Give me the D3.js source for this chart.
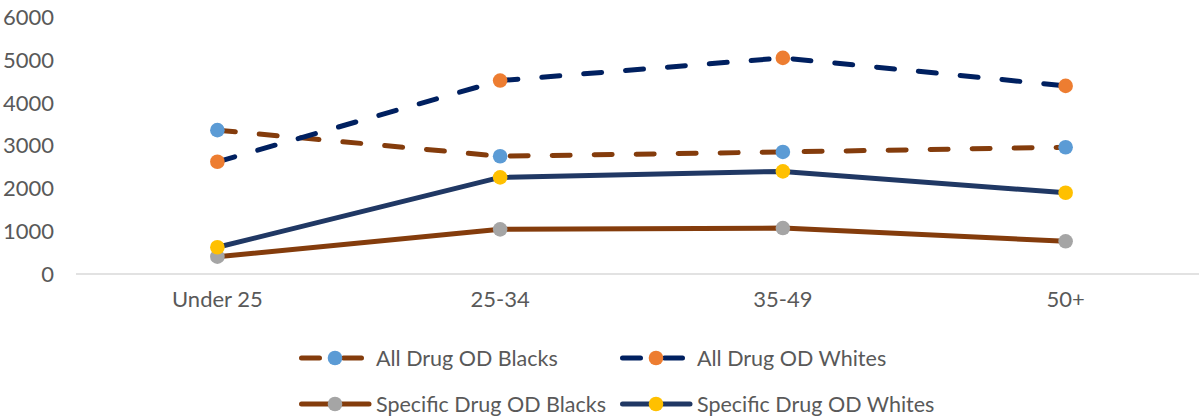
<!DOCTYPE html>
<html>
<head>
<meta charset="utf-8">
<script src="https://cdn.jsdelivr.net/npm/d3@7"></script>
<style>
  html, body { margin: 0; padding: 0; background: #fff; }
  svg { display: block; }
  text { font-family: Lato, "Open Sans", sans-serif; fill: #595959; }
</style>
</head>
<body>
<svg id="chart" width="1199" height="418"></svg>
<script>
const categories = ["Under 25", "25-34", "35-49", "50+"];
const allDrugBlacks = [3365, 2755, 2855, 2965];
const allDrugWhites = [2625, 4525, 5055, 4400];
const specificDrugBlacks = [405, 1045, 1075, 765];
const specificDrugWhites = [625, 2260, 2400, 1900];
const yTicks = [0, 1000, 2000, 3000, 4000, 5000, 6000];

const series = [
  { name: "All Drug OD Blacks", values: allDrugBlacks, line: "#843C0C", marker: "#5B9BD5", dashed: true },
  { name: "All Drug OD Whites", values: allDrugWhites, line: "#002060", marker: "#ED7D31", dashed: true },
  { name: "Specific Drug OD Blacks", values: specificDrugBlacks, line: "#843C0C", marker: "#A5A5A5", dashed: false },
  { name: "Specific Drug OD Whites", values: specificDrugWhites, line: "#203864", marker: "#FFC000", dashed: false }
];

const svg = d3.select("#chart");
const x = d3.scaleBand().domain(categories).range([76, 1207]);
const y = d3.scaleLinear().domain([0, 6000]).range([274, 17.5]);
const cx = d => x(d) + x.bandwidth() / 2;

// baseline
svg.append("line")
  .attr("x1", 76).attr("x2", 1199)
  .attr("y1", y(0)).attr("y2", y(0))
  .attr("stroke", "#D9D9D9").attr("stroke-width", 1.5);

// y axis labels
const yAxis = d3.axisLeft(y).tickValues(yTicks).tickSize(0).tickPadding(0).tickFormat(d3.format("d"));
const yg = svg.append("g").attr("transform", "translate(54,0)").call(yAxis);
yg.select(".domain").remove();
yg.selectAll("text").attr("font-size", 22).attr("fill", "#595959").style("font-family", "Lato");

// x axis labels
const xAxis = d3.axisBottom(x).tickSize(0).tickPadding(0);
const xg = svg.append("g").attr("transform", "translate(0,291)").call(xAxis);
xg.select(".domain").remove();
xg.selectAll("text").attr("font-size", 22).attr("fill", "#595959").attr("dy", "0.72em").style("font-family", "Lato");

const lineGen = d3.line().x((d, i) => cx(categories[i])).y(d => y(d));

series.forEach(s => {
  svg.append("path")
    .datum(s.values)
    .attr("d", lineGen)
    .attr("fill", "none")
    .attr("stroke", s.line)
    .attr("stroke-width", 5)
    .attr("stroke-linecap", "round")
    .attr("stroke-linejoin", "round")
    .attr("stroke-dasharray", s.dashed ? "18,24" : null);
});
series.forEach(s => {
  svg.append("g").selectAll("circle")
    .data(s.values)
    .join("circle")
    .attr("cx", (d, i) => cx(categories[i]))
    .attr("cy", d => y(d))
    .attr("r", 7.3)
    .attr("fill", s.marker);
});

// legend
const legendPos = [
  { x: 299, y: 358 }, { x: 620, y: 358 },
  { x: 299, y: 404 }, { x: 620, y: 404 }
];
series.forEach((s, i) => {
  const p = legendPos[i];
  const g = svg.append("g").attr("transform", `translate(${p.x},${p.y})`);
  g.append("line")
    .attr("x1", 2.5).attr("x2", 70)
    .attr("y1", 0).attr("y2", 0)
    .attr("stroke", s.line).attr("stroke-width", 5)
    .attr("stroke-linecap", "round")
    .attr("stroke-dasharray", s.dashed ? "18,24" : null);
  g.append("circle").attr("cx", 36).attr("cy", 0).attr("r", 7.3).attr("fill", s.marker);
  g.append("text")
    .attr("x", 77).attr("y", 0).attr("dy", "0.35em")
    .attr("font-size", 21.5)
    .text(s.name);
});
</script>
</body>
</html>
